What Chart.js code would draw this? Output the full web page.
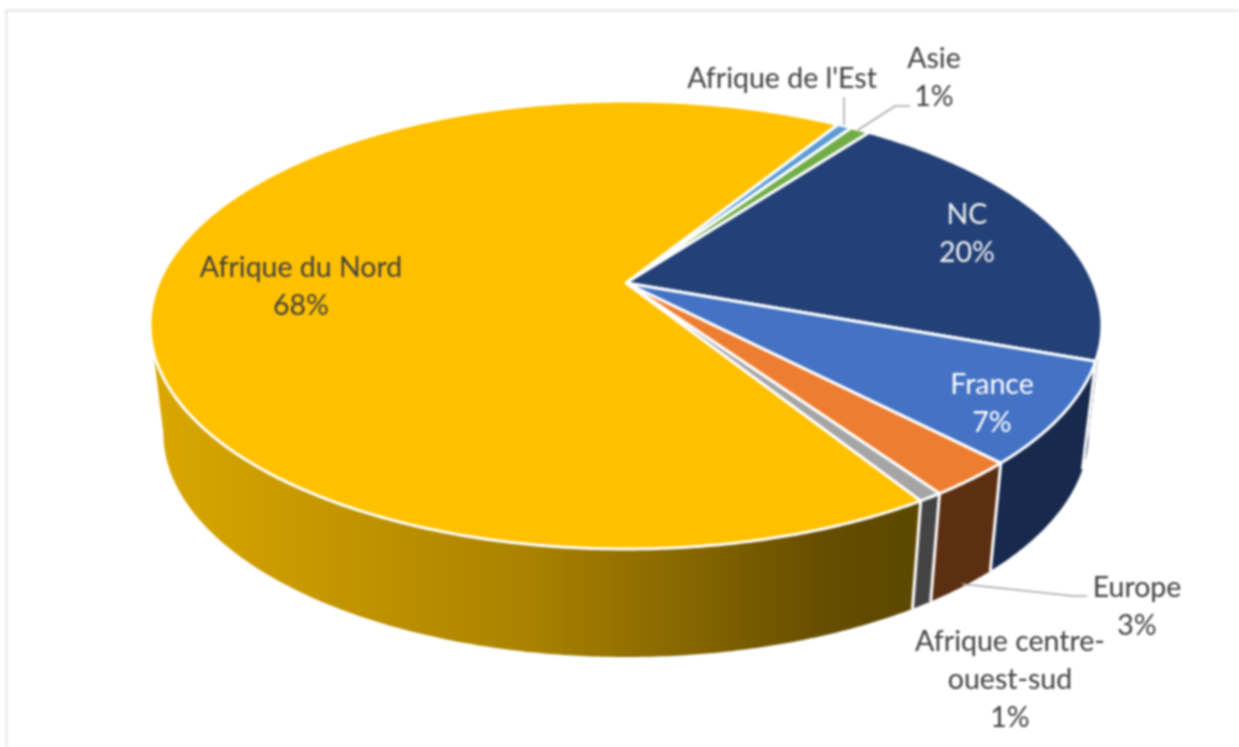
<!DOCTYPE html>
<html lang="fr">
<head>
<meta charset="utf-8">
<title>Répartition par origine</title>
<script src="https://cdn.jsdelivr.net/npm/chart.js@4"></script>
<style>
html,body{margin:0;padding:0;background:#fff;overflow:hidden}
#wrap{position:relative;width:1239px;height:747px}
canvas{filter:blur(0.8px)}
</style>
</head>
<body>
<div id="wrap"><canvas id="c"></canvas></div>
<script>
const categories = ["Afrique de l'Est","Asie","NC","France","Europe","Afrique centre-ouest-sud","Afrique du Nord"];
const shares = [0.6,0.8,20.3,7.3,2.6,0.7,67.7];
const percentLabels = [null,"1%","20%","7%","3%","1%","68%"];
const topColors = ["#5B9BD5","#70AD47","#234177","#4472C4","#ED7D31","#A5A5A5","#FFC000"];
const wallColors = ["#3A6A96","#4C7630","#182B50","#172A4E","#5C2F12","#444444",null];

// Perspective of the pie's top face (apex is not at the ellipse centre)
const view = {k:0.1875, ax:467.5/283, by:216.1/283, depth:108, shrink:0.972};
const textRows = [
  {i:0,x:782,lines:[[79,"Afrique de l'Est"]],color:"#404040"},
  {i:1,x:934,lines:[[59,"Asie"],[97,"1%"]],color:"#404040"},
  {i:2,x:967,lines:[[215,"NC"],[253,"20%"]],color:"#F2F2F2"},
  {i:3,x:992,lines:[[385,"France"],[423,"7%"]],color:"#FFFFFF"},
  {i:4,x:1137,lines:[[588,"Europe"],[626,"3%"]],color:"#404040"},
  {i:5,x:1010,lines:[[642,"Afrique centre-"],[680,"ouest-sud"],[718,"1%"]],color:"#404040"},
  {i:6,x:301,lines:[[268,"Afrique du Nord"],[306,"68%"]],color:"#404040"}
];
const leaders = [
  [[844,125],[844,97]],
  [[858,130],[895,106],[910,106]],
  [[962,584],[1073,596],[1087,596]]
];

function project(arc,theta){
  const u=Math.cos(theta), v=Math.sin(theta), d=1-view.k*v, R=arc.outerRadius;
  return {x:arc.x+R*view.ax*u/d, y:arc.y+R*view.by*v/d};
}
function lower(arc,p){
  return {x:arc.x+(p.x-arc.x)*view.shrink, y:p.y+view.depth};
}
function rim(arc,a,b){
  const n=Math.max(2,Math.ceil(Math.abs(b-a)/(Math.PI/360))), pts=[];
  for(let i=0;i<=n;i++) pts.push(project(arc,a+(b-a)*i/n));
  return pts;
}

const pie3d = {
  id:'pie3d',
  beforeDatasetDraw(chart,args){
    const ctx=chart.ctx, arcs=args.meta.data;
    const lim=Math.asin(view.k), lo=lim, hi=Math.PI-lim;
    ctx.save();
    ctx.lineJoin='round';
    // frame
    ctx.strokeStyle='#E6E6E6'; ctx.lineWidth=2;
    ctx.beginPath(); ctx.moveTo(6.5,747); ctx.lineTo(6.5,10.5); ctx.lineTo(1239,10.5); ctx.stroke();
    // outer wall
    arcs.forEach((arc,i)=>{
      const a=Math.max(arc.startAngle,lo), b=Math.min(arc.endAngle,hi);
      if(b<=a) return;
      const top=rim(arc,a,b), bottom=top.map(p=>lower(arc,p)).reverse();
      ctx.beginPath();
      top.concat(bottom).forEach((p,j)=>j?ctx.lineTo(p.x,p.y):ctx.moveTo(p.x,p.y));
      ctx.closePath();
      if(wallColors[i]) ctx.fillStyle=wallColors[i];
      else{
        const g=ctx.createLinearGradient(155,0,905,0);
        g.addColorStop(0,'#DAA700'); g.addColorStop(0.5,'#AA8200'); g.addColorStop(0.9,'#654D00'); g.addColorStop(1,'#5E4800');
        ctx.fillStyle=g;
      }
      ctx.fill();
    });
    ctx.strokeStyle='#FFFFFF'; ctx.lineWidth=3;
    arcs.forEach(arc=>{
      if(arc.startAngle>=lo && arc.startAngle<=hi){
        const p=project(arc,arc.startAngle), q=lower(arc,p);
        ctx.beginPath(); ctx.moveTo(p.x,p.y); ctx.lineTo(q.x,q.y); ctx.stroke();
      }
    });
    // top face
    arcs.forEach((arc,i)=>{
      const pts=rim(arc,arc.startAngle,arc.endAngle);
      ctx.beginPath(); ctx.moveTo(arc.x,arc.y);
      pts.forEach(p=>ctx.lineTo(p.x,p.y));
      ctx.closePath();
      ctx.fillStyle=topColors[i]; ctx.fill();
      ctx.strokeStyle='#FFFFFF'; ctx.lineWidth=3; ctx.stroke();
    });
    ctx.restore();
    return false;
  },
  afterDatasetsDraw(chart){
    const ctx=chart.ctx;
    ctx.save();
    ctx.strokeStyle='#A6A6A6'; ctx.lineWidth=1.5;
    leaders.forEach(l=>{
      ctx.beginPath();
      l.forEach((p,j)=>j?ctx.lineTo(p[0],p[1]):ctx.moveTo(p[0],p[1]));
      ctx.stroke();
    });
    ctx.font='28.5px Lato, sans-serif';
    ctx.textAlign='center'; ctx.textBaseline='middle';
    textRows.forEach(r=>{
      ctx.fillStyle=r.color;
      r.lines.forEach(([y,t])=>ctx.fillText(t,r.x,y));
    });
    ctx.restore();
  }
};

new Chart(document.getElementById('c'),{
  type:'pie',
  data:{labels:categories,datasets:[{data:shares,backgroundColor:topColors,borderColor:'#FFFFFF',borderWidth:0}]},
  options:{
    responsive:true,maintainAspectRatio:false,animation:false,
    rotation:31.7,
    layout:{padding:{left:13,right:0,top:0,bottom:181}},
    plugins:{legend:{display:false},tooltip:{enabled:false}}
  },
  plugins:[pie3d]
});
</script>
</body>
</html>
